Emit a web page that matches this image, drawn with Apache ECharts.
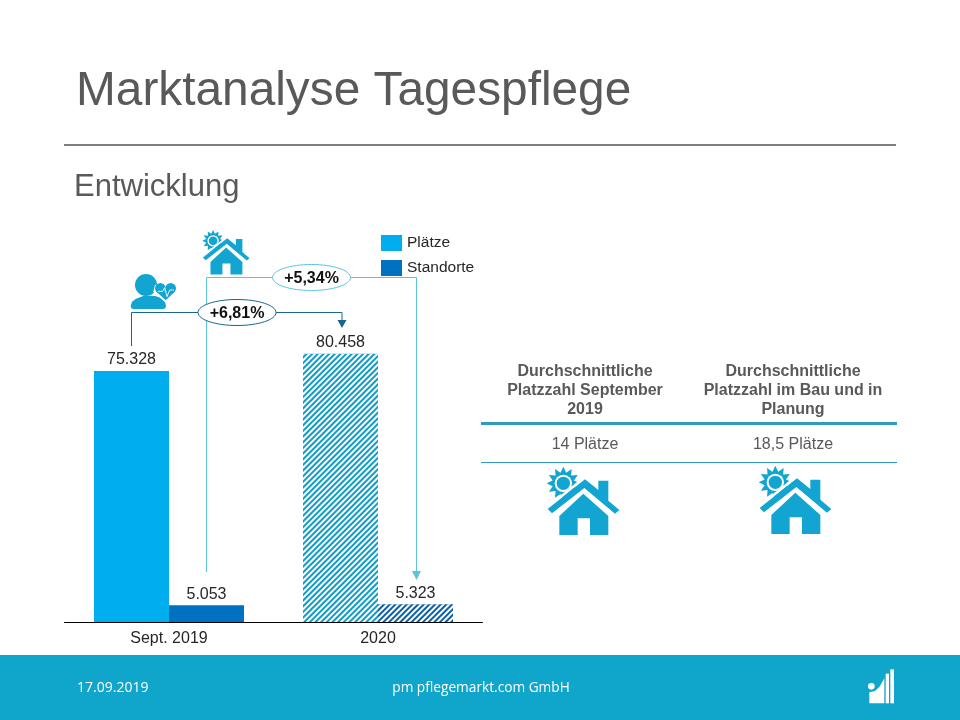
<!DOCTYPE html>
<html>
<head>
<meta charset="utf-8">
<title>Marktanalyse Tagespflege</title>
<style>
  html, body { margin: 0; padding: 0; background: #fff; }
  #main { width: 960px; height: 720px; }
</style>
<script src="https://cdn.jsdelivr.net/npm/echarts@6/dist/echarts.min.js"></script>
</head>
<body>
<div id="main"></div>
<script>
const categories = ['Sept. 2019', '2020'];
const plaetzeValues = [75328, 80458];
const standorteValues = [5053, 5323];
const tableHeaders = [
  ['Durchschnittliche', 'Platzzahl September', '2019'],
  ['Durchschnittliche', 'Platzzahl im Bau und in', 'Planung']
];
const tableValues = ['14 Plätze', '18,5 Plätze'];

const FONT = '"Liberation Sans", Arial, sans-serif';
const LIGHT = '#00AEEF';
const DARK = '#0070C0';
const ICON = '#12A5D2';
const FOOTER = '#10A5CB';

// 2020 gets the hatched look
function hatched(value, color) {
  return {
    value: value,
    itemStyle: {
      color: color,
      decal: {
        symbol: 'rect',
        color: '#fff',
        dashArrayX: [1, 0],
        dashArrayY: [1.5, 1.5],
        rotation: -Math.PI / 4
      }
    }
  };
}

function fmt(v) {
  return String(v).replace(/\B(?=(\d{3})+$)/g, '.');
}

function text(str, x, y, size, color, opts) {
  return {
    type: 'text',
    z: 20,
    style: Object.assign({
      text: str, x: x, y: y, fontSize: size, fill: color, fontFamily: FONT,
      align: 'left', verticalAlign: 'middle'
    }, opts || {})
  };
}

function line(points, color) {
  return {
    type: 'polyline', z: 10,
    shape: { points: points },
    style: { stroke: color, lineWidth: 1, fill: null }
  };
}

function arrow(x, yTop, yTip, color) {
  return {
    type: 'polygon', z: 10,
    shape: { points: [[x - 4.5, yTop], [x + 4.5, yTop], [x, yTip]] },
    style: { fill: color }
  };
}

function badge(label, cx, cy, color) {
  return [
    {
      type: 'ellipse', z: 11,
      shape: { cx: cx, cy: cy, rx: 39, ry: 13 },
      style: { fill: '#fff', stroke: color, lineWidth: 1 }
    },
    text(label, cx, cy + 1, 16, '#111', { align: 'center', fontWeight: 'bold' })
  ];
}

// sun rays as a star polygon around the sun centre
function sunPoints(cx, cy, rOut, rIn, n) {
  const pts = [];
  for (let i = 0; i < n * 2; i++) {
    const r = i % 2 ? rIn : rOut;
    const a = Math.PI * i / n;
    pts.push([cx + r * Math.cos(a), cy + r * Math.sin(a)]);
  }
  return pts;
}

function poly(points, style) {
  return { type: 'polygon', shape: { points: points }, style: style };
}

// house icon, drawn in the 3x zoom coordinates and scaled down
function houseIcon(x, y, s) {
  return {
    type: 'group', x: x, y: y, scaleX: s, scaleY: s,
    children: [
      poly(sunPoints(100, 70, 50, 33, 12), { fill: ICON }),
      { type: 'circle', shape: { cx: 100, cy: 70, r: 26 }, style: { fill: '#fff' } },
      { type: 'circle', shape: { cx: 100, cy: 70, r: 20 }, style: { fill: ICON } },
      {
        type: 'polyline',
        shape: { points: [[48, 146], [165, 52]] },
        style: { stroke: '#fff', lineWidth: 8, fill: null }
      },
      poly([[53, 147], [165, 58], [205, 90], [205, 62], [235, 62], [235, 122], [268, 150], [255, 161], [163, 84], [66, 160]],
        { fill: ICON }),
      poly([[160, 101], [235, 168], [235, 225], [180, 225], [180, 175], [143, 175], [143, 225], [88, 225], [88, 168]],
        { fill: ICON })
    ]
  };
}

function personIcon(x, y, s) {
  return {
    type: 'group', x: x, y: y, scaleX: s, scaleY: s,
    children: [
      { type: 'circle', shape: { cx: 258, cy: 195, r: 33 }, style: { fill: ICON } },
      poly([[212, 258], [216, 245], [228, 236], [250, 228], [285, 228], [305, 234], [315, 245], [318, 258], [316, 265], [310, 267], [220, 267], [214, 265]],
        { fill: ICON }),
      poly([[317, 248], [280, 215], [285, 195], [317, 190], [350, 195], [354, 215]], { fill: '#fff' }),
      { type: 'circle', shape: { cx: 301, cy: 205, r: 16 }, style: { fill: ICON } },
      { type: 'circle', shape: { cx: 332, cy: 205, r: 16 }, style: { fill: ICON } },
      poly([[288, 214], [346, 214], [317, 241]], { fill: ICON }),
      {
        type: 'polyline',
        shape: { points: [[294, 214], [308, 214], [314, 203], [321, 230], [329, 210], [342, 210]] },
        style: { stroke: '#fff', lineWidth: 2.5, fill: null }
      }
    ]
  };
}

function logoIcon(x, y, s) {
  return {
    type: 'group', x: x, y: y, scaleX: s, scaleY: s,
    children: [
      { type: 'circle', shape: { cx: 94, cy: 94, r: 10 }, style: { fill: '#fff' } },
      poly([[88, 145], [88, 112], [105, 108], [118, 96], [133, 70], [133, 145]], { fill: '#fff' }),
      { type: 'rect', shape: { x: 137, y: 56, width: 10, height: 89 }, style: { fill: '#fff' } },
      { type: 'rect', shape: { x: 151, y: 43, width: 11, height: 102 }, style: { fill: '#fff' } }
    ]
  };
}

const colCenters = [585, 793];
const tableGraphics = [];
tableHeaders.forEach((rows, c) => {
  rows.forEach((row, r) => {
    tableGraphics.push(text(row, colCenters[c], 372 + r * 19, 16, '#595959', { align: 'center', fontWeight: 'bold' }));
  });
  tableGraphics.push(text(tableValues[c], colCenters[c], 445, 16, '#595959', { align: 'center' }));
});

const chart = echarts.init(document.getElementById('main'));

chart.setOption({
  animation: false,
  backgroundColor: '#fff',
  legend: {
    left: 376,
    top: 230,
    orient: 'vertical',
    itemWidth: 21,
    itemHeight: 16,
    itemGap: 9,
    icon: 'rect',
    selectedMode: false,
    textStyle: { fontFamily: FONT, fontSize: 15.5, color: '#262626' },
    data: ['Plätze', 'Standorte']
  },
  grid: { left: 64.5, right: 477.5, top: 322, bottom: 98 },
  xAxis: {
    type: 'category',
    data: categories,
    axisTick: { show: false },
    axisLine: { lineStyle: { color: '#000', width: 1 } },
    axisLabel: { fontFamily: FONT, fontSize: 16, color: '#262626', margin: 9 }
  },
  yAxis: { type: 'value', min: 0, max: 90000, show: false, splitLine: { show: false } },
  series: [
    {
      name: 'Plätze',
      type: 'bar',
      barWidth: 75,
      barGap: 0,
      itemStyle: { color: LIGHT },
      label: {
        show: true, position: 'top', distance: 3,
        fontFamily: FONT, fontSize: 16, color: '#262626',
        formatter: p => fmt(p.value)
      },
      data: [plaetzeValues[0], hatched(plaetzeValues[1], '#0E9CC6')]
    },
    {
      name: 'Standorte',
      type: 'bar',
      barWidth: 75,
      barGap: 0,
      itemStyle: { color: DARK },
      label: {
        show: true, position: 'top', distance: 3,
        fontFamily: FONT, fontSize: 16, color: '#262626',
        formatter: p => fmt(p.value)
      },
      data: [standorteValues[0], hatched(standorteValues[1], '#0B5FA5')]
    }
  ],
  graphic: [
    text('Marktanalyse Tagespflege', 76, 92, 47.8, '#595959'),
    { type: 'rect', shape: { x: 64, y: 144, width: 832, height: 2 }, style: { fill: '#7F7F7F' } },
    text('Entwicklung', 74, 187, 31, '#595959'),

    // connectors
    line([[206.5, 572], [206.5, 277.5], [416.5, 277.5], [416.5, 572]], '#5CC5DC'),
    arrow(416.5, 571, 580, '#5CC5DC'),
    ...badge('+5,34%', 311.5, 277.5, '#5CC5DC'),
    line([[131.5, 346], [131.5, 312.5], [342, 312.5], [342, 322]], '#17688A'),
    arrow(342, 320, 328, '#17688A'),
    ...badge('+6,81%', 237, 312.5, '#17688A'),

    personIcon(60, 220, 1 / 3),
    houseIcon(191.4, 225.6, 0.217),

    // table on the right
    ...tableGraphics,
    { type: 'rect', shape: { x: 481, y: 422, width: 416, height: 3 }, style: { fill: '#2F9BC0' } },
    { type: 'rect', shape: { x: 481, y: 462, width: 416, height: 1 }, style: { fill: '#2F9BC0' } },
    houseIcon(530, 460, 1 / 3),
    houseIcon(742, 459, 1 / 3),

    // footer
    { type: 'rect', shape: { x: 0, y: 655, width: 960, height: 65 }, style: { fill: FOOTER } },
    text('17.09.2019', 77, 688, 14, '#fff', { fontFamily: '"Open Sans", sans-serif' }),
    text('pm pflegemarkt.com GmbH', 481, 688, 13.7, '#fff', { align: 'center', fontFamily: '"Open Sans", sans-serif' }),
    logoIcon(840, 655, 1 / 3)
  ]
});
</script>
</body>
</html>
